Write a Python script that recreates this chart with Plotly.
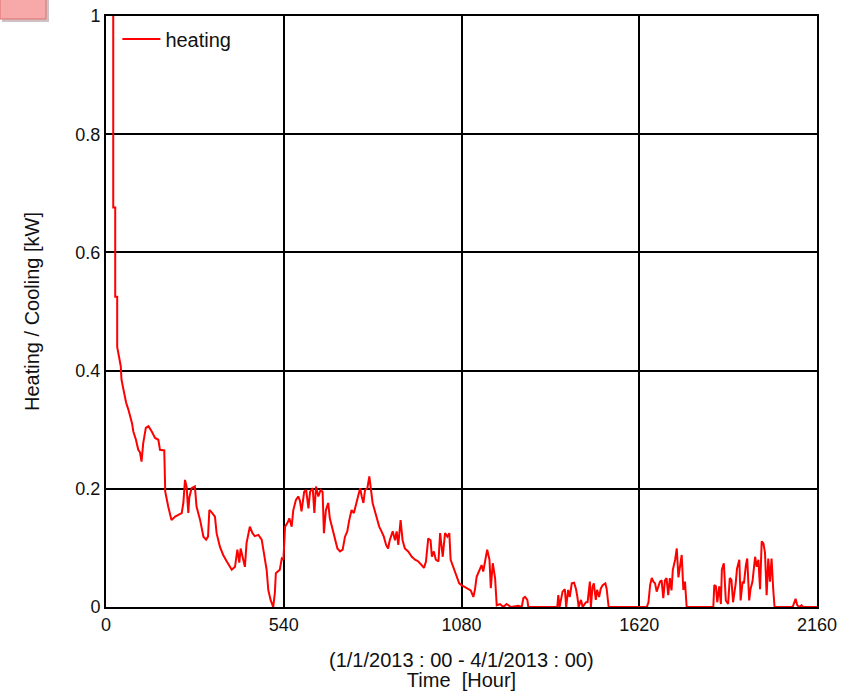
import plotly.graph_objects as go

# Hourly heating load (kW)
hours = [22, 22, 28, 28, 34, 34, 45, 47, 53, 61, 68, 73, 79, 83, 91, 98, 103, 108, 113, 121,
         129, 139, 149, 159, 164, 177, 180, 189, 199, 210, 220, 230, 235, 240, 245, 250, 253, 260, 270, 275,
         286, 296, 304, 310, 314, 320, 331, 336, 346, 356, 367, 382, 392, 399, 405, 409, 417, 422, 427, 437,
         445, 452, 463, 473, 478, 488, 493, 500, 508, 513, 516, 523, 528, 534, 539, 544, 551, 557, 564, 569,
         577, 584, 589, 594, 602, 608, 615, 620, 628, 633, 638, 645, 652, 658, 662, 668, 675, 680, 689, 696,
         703, 711, 719, 726, 733, 739, 746, 753, 760, 767, 772, 777, 782, 787, 794, 800, 804, 810, 817, 824,
         830, 837, 844, 851, 857, 862, 871, 878, 883, 888, 895, 901, 908, 918, 929, 939, 949, 959, 966, 972,
         979, 986, 990, 996, 1002, 1010, 1015, 1023, 1030, 1037, 1043, 1047, 1053, 1060, 1067, 1073, 1080, 1090, 1101, 1108,
         1116, 1121, 1126, 1134, 1141, 1146, 1151, 1158, 1165, 1169, 1175, 1182, 1187, 1197, 1207, 1217, 1230, 1253, 1263, 1268,
         1273, 1280, 1283, 1371, 1374, 1378, 1387, 1394, 1398, 1404, 1409, 1415, 1422, 1428, 1432, 1436, 1443, 1446, 1448, 1458,
         1463, 1470, 1473, 1478, 1482, 1488, 1492, 1498, 1503, 1509, 1517, 1521, 1527, 1643, 1648, 1653, 1658, 1663, 1668, 1673,
         1678, 1683, 1688, 1693, 1698, 1703, 1708, 1713, 1718, 1722, 1729, 1734, 1739, 1744, 1749, 1754, 1759, 1764, 1845, 1848,
         1853, 1857, 1863, 1868, 1871, 1877, 1883, 1890, 1895, 1900, 1905, 1913, 1917, 1924, 1928, 1934, 1938, 1944, 1948, 1954,
         1958, 1964, 1972, 1977, 1982, 1987, 1992, 1997, 2002, 2007, 2012, 2017, 2022, 2027, 2031, 2086, 2090, 2095, 2100, 2106,
         2113, 2118, 2160]
heating = [1.30, 0.676, 0.676, 0.525, 0.525, 0.44, 0.407, 0.385, 0.368, 0.346, 0.334, 0.323, 0.311, 0.297, 0.283, 0.266, 0.262, 0.246, 0.277, 0.303,
           0.306, 0.297, 0.286, 0.283, 0.266, 0.265, 0.195, 0.170, 0.147, 0.153, 0.156, 0.159, 0.176, 0.215, 0.203, 0.159, 0.185, 0.201, 0.204, 0.170,
           0.147, 0.119, 0.114, 0.119, 0.164, 0.161, 0.153, 0.125, 0.102, 0.088, 0.077, 0.063, 0.068, 0.097, 0.075, 0.099, 0.080, 0.068, 0.108, 0.136,
           0.125, 0.120, 0.122, 0.114, 0.097, 0.063, 0.029, 0.012, 0.0, 0.024, 0.057, 0.060, 0.063, 0.082, 0.080, 0.136, 0.142, 0.150, 0.136, 0.164,
           0.181, 0.187, 0.180, 0.162, 0.195, 0.198, 0.167, 0.195, 0.201, 0.159, 0.204, 0.187, 0.198, 0.195, 0.125, 0.164, 0.176, 0.150, 0.130, 0.119,
           0.099, 0.094, 0.097, 0.119, 0.128, 0.147, 0.164, 0.159, 0.173, 0.187, 0.201, 0.187, 0.176, 0.198, 0.201, 0.221, 0.198, 0.176, 0.162, 0.147,
           0.136, 0.128, 0.119, 0.105, 0.099, 0.113, 0.128, 0.113, 0.128, 0.105, 0.147, 0.113, 0.099, 0.094, 0.085, 0.080, 0.077, 0.071, 0.066, 0.077,
           0.116, 0.113, 0.085, 0.094, 0.080, 0.077, 0.125, 0.085, 0.125, 0.119, 0.125, 0.080, 0.071, 0.060, 0.051, 0.040, 0.037, 0.034, 0.031, 0.028,
           0.017, 0.030, 0.051, 0.063, 0.071, 0.060, 0.077, 0.097, 0.080, 0.032, 0.074, 0.049, 0.003, 0.005, 0.0, 0.005, 0.0, 0.002, 0.0, 0.015,
           0.017, 0.012, 0.0, 0.0, 0.020, 0.0, 0.026, 0.030, 0.0, 0.029, 0.017, 0.040, 0.041, 0.030, 0.017, 0.0, 0.012, 0.0, 0.0, 0.008,
           0.008, 0.043, 0.0, 0.034, 0.040, 0.012, 0.029, 0.017, 0.031, 0.037, 0.040, 0.031, 0.0, 0.0, 0.008, 0.037, 0.049, 0.043, 0.040, 0.026,
           0.037, 0.043, 0.045, 0.015, 0.045, 0.049, 0.020, 0.049, 0.028, 0.063, 0.080, 0.099, 0.050, 0.074, 0.088, 0.029, 0.043, 0.0, 0.0, 0.037,
           0.035, 0.008, 0.035, 0.005, 0.063, 0.074, 0.011, 0.005, 0.049, 0.046, 0.008, 0.040, 0.065, 0.080, 0.011, 0.043, 0.040, 0.071, 0.082, 0.011,
           0.030, 0.043, 0.085, 0.068, 0.080, 0.030, 0.111, 0.108, 0.092, 0.020, 0.082, 0.043, 0.082, 0.030, 0.0, 0.0, 0.008, 0.014, 0.003, 0.0,
           0.003, 0.0, 0.0]

x_ticks = [0, 540, 1080, 1620, 2160]
x_tick_text = ["0", "540", "1080", "1620", "2160"]
y_ticks = [0, 0.2, 0.4, 0.6, 0.8, 1]
y_tick_text = ["0", "0.2", "0.4", "0.6", "0.8", "1"]
period_text = "(1/1/2013 : 00 - 4/1/2013 : 00)"

FONT = "Liberation Sans, Arial, sans-serif"

fig = go.Figure()
fig.add_trace(go.Scatter(
    x=hours, y=heating, mode="lines", name="heating",
    line=dict(color="#FF0000", width=2),
))

fig.update_layout(
    width=848, height=691,
    margin=dict(l=106, r=31, t=16, b=84),
    paper_bgcolor="white", plot_bgcolor="white",
    font=dict(family=FONT, size=18, color="#111111"),
    showlegend=True,
    legend=dict(x=0.016, y=0.994, xanchor="left", yanchor="top", itemwidth=38,
                bgcolor="rgba(0,0,0,0)", font=dict(size=20)),
    xaxis=dict(
        range=[0, 2160], tickvals=x_ticks, ticktext=x_tick_text,
        showgrid=True, gridcolor="black", gridwidth=1.5,
        showline=True, linecolor="black", linewidth=2, mirror=True,
        zeroline=False, ticks="", ticklen=0, tickfont=dict(size=18),
        automargin=False,
        title=dict(text="Time  [Hour]", font=dict(size=20), standoff=42),
    ),
    yaxis=dict(
        range=[0, 1], tickvals=y_ticks, ticktext=y_tick_text,
        showgrid=True, gridcolor="black", gridwidth=1.5,
        showline=True, linecolor="black", linewidth=2, mirror=True,
        zeroline=False, ticks="", ticklen=0, tickfont=dict(size=18),
        automargin=False,
        title=dict(text="Heating / Cooling [kW]", font=dict(size=20), standoff=30),
    ),
)

fig.add_annotation(text=period_text, xref="paper", yref="paper",
                   x=0.5, y=(607 - 660) / 591, xanchor="center", yanchor="middle",
                   showarrow=False, font=dict(size=20, family=FONT, color="#111111"))

# small pink box in the top-left corner
fig.add_shape(type="rect", xref="paper", yref="paper",
              x0=(2 - 106) / 711, x1=(49 - 106) / 711, y0=(607 - 22) / 591, y1=(607 + 3) / 591,
              fillcolor="rgba(150,120,120,0.45)", line=dict(width=0), layer="above")
fig.add_shape(type="rect", xref="paper", yref="paper",
              x0=(0 - 106) / 711, x1=(46 - 106) / 711, y0=(607 - 19) / 591, y1=(607 + 3) / 591,
              fillcolor="#F7A8A8", line=dict(color="#DD7070", width=1), layer="above")

fig.write_html("out.html")
